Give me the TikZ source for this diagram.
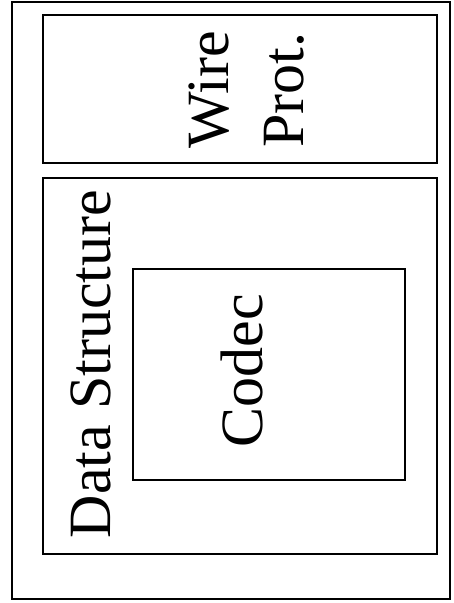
\documentclass[tikz,border=0pt]{standalone}
\usepackage{fontspec}
\setmainfont{Liberation Serif}
\begin{document}
\begin{tikzpicture}[x=1pt,y=-1pt,
  box/.style={draw=black,line width=1.6pt,rectangle,inner sep=0pt},
  lbl/.style={rotate=90,anchor=base,inner sep=0pt,font=\fontsize{60}{72}\selectfont}]
\useasboundingbox (0,0) rectangle (454,603);
\node[box,minimum width=438pt,minimum height=597pt] (outer) at (231,300.5) {};
\node[box,minimum width=394pt,minimum height=148pt] (wire) at (240,89) {};
\node[box,minimum width=394pt,minimum height=376pt] (data) at (240,366) {};
\node[box,minimum width=272pt,minimum height=211pt] (codec) at (269,374.5) {};
\node[lbl] (wiret) at (228,90) {Wire};
\node[lbl] (prott) at (303,90) {Prot.};
\node[lbl] (datat) at (110,364) {Data Structure};
\node[lbl] (codect) at (262,371) {Codec};
\end{tikzpicture}
\end{document}
